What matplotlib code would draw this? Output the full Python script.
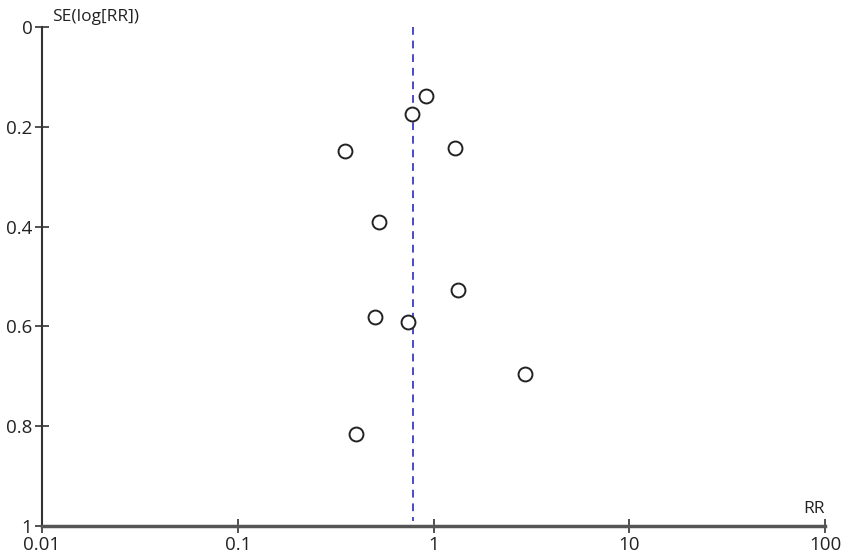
import numpy as np
import matplotlib.pyplot as plt

# study estimates
rr = [0.92, 0.78, 0.355, 1.29, 0.524, 1.34, 0.50, 0.745, 2.95, 0.40]
se = [0.138, 0.174, 0.248, 0.243, 0.391, 0.528, 0.582, 0.591, 0.695, 0.816]
pooled_rr = 0.79
x_ticks = [0.01, 0.1, 1, 10, 100]
x_labels = ["0.01", "0.1", "1", "10", "100"]
y_ticks = [0, 0.2, 0.4, 0.6, 0.8, 1]
y_labels = ["0", "0.2", "0.4", "0.6", "0.8", "1"]

plt.rcParams['font.family'] = ['Open Sans', 'DejaVu Sans']

fig = plt.figure(figsize=(8.51, 5.56), dpi=100)
ax = fig.add_axes([42 / 851, 1 - 526 / 556, (825 - 42) / 851, (526 - 27) / 556])

ax.set_xscale('log')
ax.set_xlim(0.01, 100)
ax.set_ylim(1, 0)

ax.plot([pooled_rr, pooled_rr], [0, 0.99], linestyle=(0, (4, 3)), color='#4a4ac8', lw=1.4, zorder=1)
ax.plot(rr, se, 'o', ms=10, mfc='white', mec='#222222', mew=1.4, zorder=2)

for s in ['top', 'right']:
    ax.spines[s].set_visible(False)
ax.spines['left'].set_linewidth(1.5)
ax.spines['left'].set_color('#333333')
ax.spines['bottom'].set_linewidth(2.5)
ax.spines['bottom'].set_color('#555555')

ax.set_xticks(x_ticks)
ax.set_xticklabels(x_labels)
ax.xaxis.set_minor_locator(plt.NullLocator())
ax.set_yticks(y_ticks)
ax.set_yticklabels(y_labels)
ax.tick_params(axis='both', direction='inout', length=10, width=1.2, colors='#333333',
               labelsize=13.5, labelcolor='#222222', pad=2)

ax.text(0.0112, -0.004, "SE(log[RR])", fontsize=12.5, ha='left', va='bottom', color='#222222')
ax.text(100, 0.982, "RR", fontsize=12.5, ha='right', va='bottom', color='#222222')

fig.savefig('out.png', dpi=100)
